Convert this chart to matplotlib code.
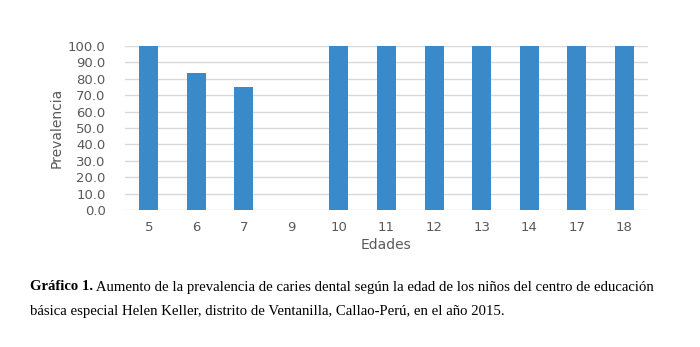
import matplotlib.pyplot as plt

# Prevalencia de caries por edad
edades = ['5', '6', '7', '9', '10', '11', '12', '13', '14', '17', '18']
prevalencia = [100.0, 83.3, 75.0, 0.0, 100.0, 100.0, 100.0, 100.0, 100.0, 100.0, 100.0]
yticks = [0, 10, 20, 30, 40, 50, 60, 70, 80, 90, 100]

caption_bold = "Gráfico 1."
caption_rest_1 = " Aumento de la prevalencia de caries dental según la edad de los niños del centro de educación"
caption_line_2 = "básica especial Helen Keller, distrito de Ventanilla, Callao-Perú, en el año 2015."

fig = plt.figure(figsize=(7, 3.47), dpi=100)
ax = fig.add_axes([125 / 700, 1 - 210 / 347, 523 / 700, 164 / 347])

x = range(len(edades))
ax.bar(x, prevalencia, width=0.4, color='#3A89C9', zorder=3)

ax.set_xlim(-0.5, len(edades) - 0.5)
ax.set_ylim(0, 100)
ax.set_yticks(yticks)
ax.set_yticklabels([f"{v:.1f}" for v in yticks])
ax.set_xticks(list(x))
ax.set_xticklabels(edades)
ax.yaxis.grid(True, color='#D9D9D9', linewidth=1, zorder=0)
for s in ax.spines.values():
    s.set_visible(False)
ax.tick_params(axis='both', length=0, colors='#595959', labelsize=9.5)
ax.tick_params(axis='x', pad=8)
ax.tick_params(axis='y', pad=14)
ax.set_xlabel("Edades", color='#595959', fontsize=10, labelpad=3)
ax.set_ylabel("Prevalencia", color='#595959', fontsize=10, labelpad=3)

# Caption below the chart
serif = 'Liberation Serif'
fs = 10.6
t1 = fig.text(30 / 700, 1 - 287 / 347, caption_bold, fontsize=fs, family=serif,
              fontweight='bold', va='center')
fig.canvas.draw()
bb = t1.get_window_extent()
fig.text(bb.x1 / fig.bbox.width, 1 - 287 / 347, caption_rest_1, fontsize=fs,
         family=serif, va='center')
fig.text(30 / 700, 1 - 312 / 347, caption_line_2, fontsize=fs, family=serif, va='center')

fig.savefig('out.png', dpi=100)
